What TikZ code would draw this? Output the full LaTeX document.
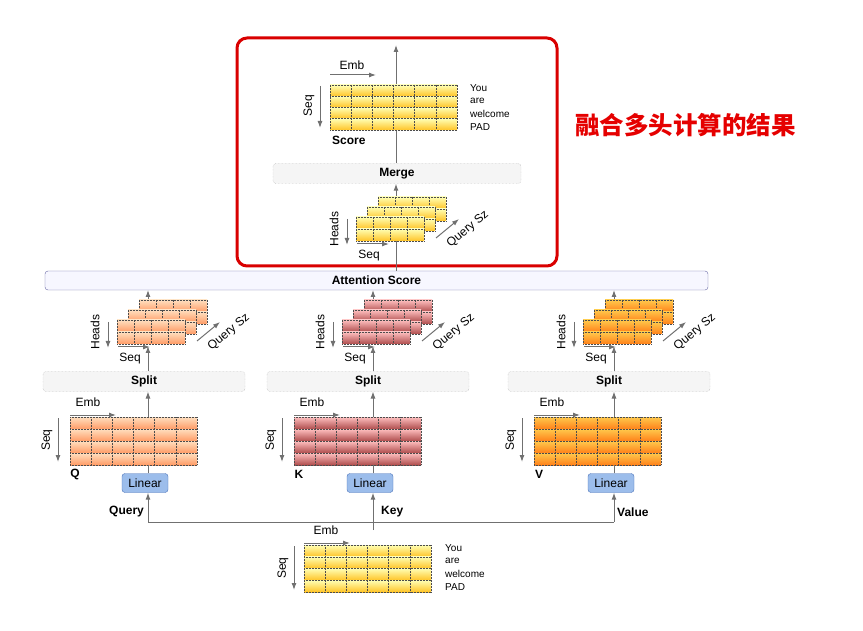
\documentclass[tikz,border=0pt]{standalone}
\usepackage{fontspec}
\setmainfont{Liberation Sans}
\newfontfamily\cjk{Noto Sans CJK SC}
\usetikzlibrary{arrows.meta}
\definecolor{gr}{HTML}{707070}
\definecolor{linf}{HTML}{9CBDEB}
\definecolor{lind}{HTML}{4A72B8}
\newcommand\mymat[8]{%
  \foreach \r in {1,...,#5}{\shade[top color=#7,bottom color=#8] ({#1},{#2+(\r-1)*#4/#5}) rectangle ({#1+#3},{#2+\r*#4/#5});}
  \foreach \r in {0,...,#5}{\draw[black!70,densely dotted,line width=0.5pt] ({#1},{#2+\r*#4/#5}) -- ({#1+#3},{#2+\r*#4/#5});}
  \foreach \c in {0,...,#6}{\draw[black!70,densely dotted,line width=0.5pt] ({#1+\c*#3/#6},{#2}) -- ({#1+\c*#3/#6},{#2+#4});}
}
\newcommand\mystack[4]{% x y(front top) colorA colorB
  \mymat{#1+22}{#2-20}{68}{24}{2}{4}{#3}{#4}
  \mymat{#1+11}{#2-10}{68}{24}{2}{4}{#3}{#4}
  \mymat{#1}{#2}{68}{24}{2}{4}{#3}{#4}
  \draw[arr] ({#1-9},{#2+2}) -- ({#1-9},{#2+28}); \node[lbl,rotate=90] at ({#1-22},{#2+12}) {Heads};
  \draw[arr] ({#1+1},{#2+27}) -- ({#1+33},{#2+27}); \node[lbl] at ({#1+13},{#2+39}) {Seq};
  \draw[arr] ({#1+80},{#2+21}) -- ({#1+103},{#2+2}); \node[lbl,rotate=40] at ({#1+112},{#2+12}) {Query Sz};
}
\begin{document}
\begin{tikzpicture}[x=1pt,y=-1pt,
  arr/.style={gr,line width=1pt,-{Latex[length=7pt,width=5pt]}},
  lbl/.style={font=\fontsize{12}{12}\selectfont,inner sep=0},
  blbl/.style={font=\bfseries\fontsize{12}{12}\selectfont,inner sep=0},
  word/.style={font=\fontsize{10}{10}\selectfont,inner sep=0,anchor=west},
  op/.style={draw=gray!70,densely dotted,fill=gray!8,rounded corners=3pt,minimum height=20pt,font=\bfseries\fontsize{12}{12}\selectfont},
  lin/.style={draw=lind,fill=linf,rounded corners=3pt,minimum width=46pt,minimum height=19pt,font=\fontsize{12}{12}\selectfont,inner sep=1pt}]
\useasboundingbox (0,0) rectangle (863,631);
% red frame
\draw[red!85!black,line width=3pt,rounded corners=10pt] (237,38) rectangle (557,266);
\node[red!90!black,font=\cjk\bfseries\fontsize{24.5}{24.5}\selectfont,anchor=west,inner sep=0] (title) at (575,125) {融合多头计算的结果};
% Attention score
\node[draw=blue!40!black!60,fill=blue!3,rounded corners=3pt,minimum width=663pt,minimum height=19pt,font=\bfseries\fontsize{12}{12}\selectfont,inner sep=0] (att) at (376.5,280.5) {Attention Score};
% Merge
\node[op,minimum width=248pt] (merge) at (397,173.5) {Merge};
\coordinate (sc) at (396,45);
\draw[arr] (merge.north -| sc) -- (sc);
\draw[arr] (att.north -| sc) -- (merge.south -| sc);
% score matrix
\mymat{330}{85}{127}{45}{4}{6}{yellow!30}{orange!55!yellow!85}
\draw[arr] (330,75) -- (376,75); \node[lbl] (e1) at (352,65) {Emb};
\draw[arr] (320,86) -- (320,128); \node[lbl,rotate=90] (s1) at (309,106) {Seq};
\node[blbl,anchor=west] (score) at (332,140) {Score};
\node[word] (w1) at (470,88) {You}; \node[word] at (470,101) {are}; \node[word] at (470,114) {welcome}; \node[word] at (470,127) {PAD};
% merged heads stack
\mystack{356}{217}{yellow!30}{orange!55!yellow!85}
% columns
\foreach \x/\nm/\L/\mx/\ca/\cb/\sx/\inp/\ix in {
  148/q/Q/70/orange!25/orange!70!red!60/144/Query/109,
  373/k/K/294/red!25/red!55!black!70/368/Key/381,
  614/v/V/534/orange!60!yellow!70/orange!90!red!90/609/Value/617}{
  \node[op,minimum width=202pt] (split\nm) at (\sx,381.5) {Split};
  \draw[arr] (\x,371.5) -- (\x,346);
  \draw[arr] (\x,330) -- (\x,290);
  \mystack{\x-31}{320}{\ca}{\cb}
  \draw[arr] (\x,417) -- (\x,391.5);
  \mymat{\mx}{417}{127}{48}{4}{6}{\ca}{\cb}
  \draw[arr] (\mx,415) -- (\mx+46,415); \node[lbl] at (\mx+18,402) {Emb};
  \draw[arr] (\mx-12,418) -- (\mx-12,462); \node[lbl,rotate=90] at (\mx-23,440) {Seq};
  \node[blbl] at (\mx+5,474) {\L};
  \node[lin] (lin\nm) at (\x-3,483) {Linear};
  \draw[gr,line width=1pt] (lin\nm.north -| \x,0) -- (\x,465);
  \node[blbl,anchor=west] at (\ix,512) {\inp};
}
% bottom connectors
\coordinate (jq) at (148,522); \coordinate (jv) at (614,522); \coordinate (jk) at (373,530);
\draw[gr,line width=1pt] (jq) -- (jv);
\draw[arr] (jq) -- (linq.south -| jq);
\draw[arr] (jv) -- (linv.south -| jv);
\draw[arr] (jk) -- (link.south -| jk);
% input
\mymat{304}{545}{127}{47}{4}{6}{yellow!30}{orange!55!yellow!85}
\draw[arr] (304,543) -- (350,543); \node[lbl] at (326,530) {Emb};
\draw[arr] (294,546) -- (294,590); \node[lbl,rotate=90] at (283,568) {Seq};
\node[word] at (445,548) {You}; \node[word] at (445,561) {are}; \node[word] at (445,574) {welcome}; \node[word] at (445,587) {PAD};
\end{tikzpicture}
\end{document}
